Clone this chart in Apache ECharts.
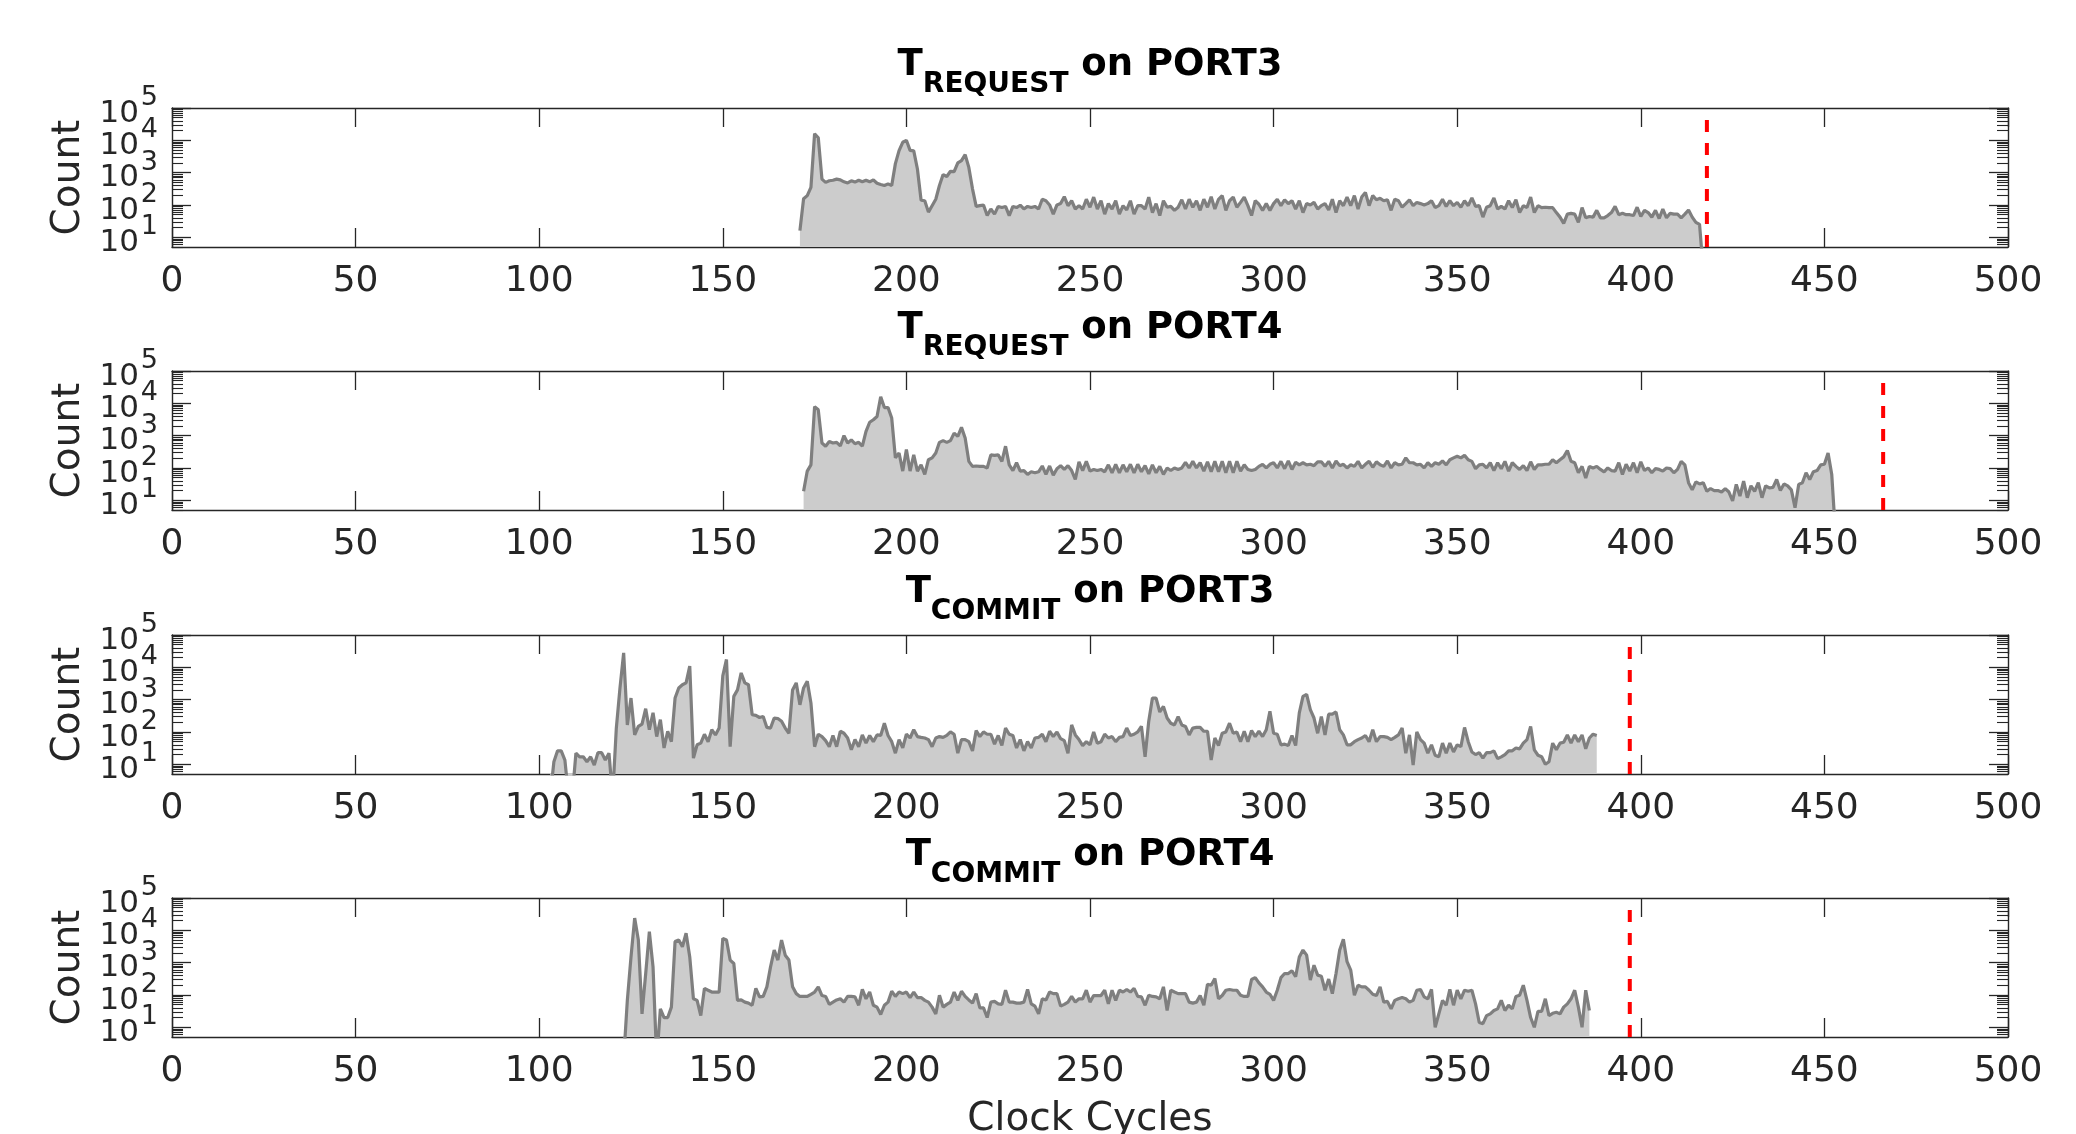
<!DOCTYPE html>
<html>
<head>
<meta charset="utf-8">
<script src="https://cdn.jsdelivr.net/npm/echarts@6/dist/echarts.min.js"></script>
<style>
html,body{margin:0;padding:0;background:#fff;}
#chart{width:2076px;height:1134px;}
</style>
</head>
<body>
<div id="chart"></div>
<script>
// ---------------- DATA ----------------
const xTicks = [0, 50, 100, 150, 200, 250, 300, 350, 400, 450, 500];
const yMajorTicks = [10, 100, 1000, 10000, 100000];
const yMajorBase = '10';
const yMajorExp = ['1', '2', '3', '4', '5'];
const yMinorTicks = [5, 6, 7, 8, 9, 20, 30, 40, 50, 60, 70, 80, 90, 200, 300, 400, 500, 600, 700, 800, 900,
  2000, 3000, 4000, 5000, 6000, 7000, 8000, 9000, 20000, 30000, 40000, 50000, 60000, 70000, 80000, 90000];
const yMin = 5;
const yMax = 100000;

const titleSubs = ['REQUEST', 'REQUEST', 'COMMIT', 'COMMIT'];
const titlePorts = ['PORT3', 'PORT4', 'PORT3', 'PORT4'];
const deadlines = [418, 466, 397, 397];
const deadlineTop = 56000;

const reqPort3Start = 171;
const reqPort3 = [16,155,195,350,16000,12000,630,500,560,580,
 630,600,520,480,560,510,580,520,580,520,
 600,470,430,400,450,400,1900,4800,8700,10000,
 4900,4700,1300,140,135,60,95,150,400,870,
 760,1100,1080,2000,2350,3600,1450,315,90,95,
 100,47,75,52,90,83,90,47,90,83,
 98,75,90,83,90,75,150,135,100,52,
 100,110,180,95,135,75,95,75,150,85,
 175,75,135,52,110,75,135,52,95,70,
 135,52,95,95,75,175,58,110,47,135,
 85,90,68,85,145,75,150,85,135,68,
 150,85,180,75,150,195,68,135,175,85,
 120,175,95,47,135,105,68,110,68,110,
 150,95,145,110,135,75,135,58,110,100,
 120,75,95,110,70,150,58,135,95,175,
 95,195,75,175,245,95,195,145,160,135,
 145,68,150,135,85,110,145,95,120,110,
 100,110,135,83,95,150,90,135,95,120,
 85,135,95,165,90,95,42,85,95,165,
 75,90,75,135,83,145,58,95,83,175,
 58,95,83,85,83,83,58,42,27,52,
 55,52,29,83,40,44,42,68,40,40,
 47,58,90,50,55,50,50,47,85,44,
 68,58,42,68,38,75,40,55,52,52,
 40,52,70,42,29,25,1];

const reqPort4Start = 172;
const reqPort4 = [19,80,125,7900,6300,590,470,660,590,620,
 480,1000,590,740,560,620,470,1350,2600,3100,
 3900,16000,7400,7400,3500,205,290,80,370,80,
 255,80,125,63,180,205,290,620,700,620,
 700,1200,950,1800,850,160,112,115,112,112,
 100,255,245,255,160,470,125,83,145,80,
 83,63,76,71,76,115,63,115,60,95,
 118,90,118,83,44,155,83,160,80,90,
 83,90,76,125,71,130,71,125,76,130,
 71,130,76,118,66,125,71,112,63,100,
 83,100,90,100,150,100,160,100,145,80,
 155,76,160,76,160,71,160,71,160,80,
 125,90,83,90,112,130,100,130,145,100,
 160,95,165,90,150,125,145,125,130,118,
 155,155,112,160,100,165,118,130,100,125,
 112,160,100,130,160,105,155,125,112,165,
 100,145,125,130,205,145,145,125,130,100,
 145,112,145,130,165,125,180,205,230,205,
 245,180,160,95,125,130,100,145,83,145,
 95,160,80,145,112,90,118,83,155,90,
 125,125,130,130,180,145,180,220,345,160,
 145,71,112,49,112,100,112,90,76,100,
 83,80,145,63,130,80,145,71,155,83,
 100,71,95,90,80,100,95,71,90,160,
 125,35,21,37,32,35,19,23,20,20,
 18,23,18,9.5,31,13.5,39,12,28,19,
 35,12,28,24,25,44,20,32,28,21,
 5.9,31,35,71,44,76,83,125,130,290,
 63,1];

const comPort3Start = 103;
const comPort3 = [1,12,26,26,13.5,1,1,22,17,17,
 12,17,9.5,23,23,13.5,22,1,130,2300,
 28000,165,1120,81,148,175,525,117,390,72,
 240,32,105,50,1120,2300,2900,3300,11000,15.5,
 40,45,85,50,117,81,132,5400,17500,35,
 1260,2000,6700,3300,2900,340,325,280,300,138,
 132,270,260,215,132,91,2000,3300,690,2300,
 3700,790,35,85,72,54,35,78,35,105,
 91,65,28,58,35,81,45,78,50,81,
 78,186,78,50,22,58,32,85,65,117,
 72,68,65,58,35,65,72,68,78,100,
 85,22,58,58,50,26,110,72,100,85,
 85,42,78,38,132,85,78,32,58,26,
 50,32,65,68,85,50,105,72,100,62,
 54,22,165,81,58,38,50,40,100,45,
 50,85,65,72,50,68,72,132,78,85,
 100,150,17,215,1120,1120,415,615,270,186,
 165,300,165,148,81,132,138,138,105,105,
 13.5,65,38,91,100,186,91,100,50,105,
 50,110,72,105,72,117,435,91,85,40,
 42,38,78,38,390,1260,1450,490,270,91,
 300,81,355,355,415,117,81,40,40,50,
 58,65,78,50,117,50,72,72,68,58,
 68,81,132,22,81,9.5,100,58,45,22,
 40,19,17,45,22,45,24,40,35,138,
 50,24,20,23,15.5,23,23,26,15,17,
 20,26,26,32,30,45,58,148,28,19,
 17,10,12,45,28,45,48,81,45,81,
 50,81,30,65,85,78];

const comPort4Start = 123;
const comPort4 = [1,68,1500,24000,5000,26,460,9100,740,1,
 37,20,20,42,4500,5000,3100,8100,1500,76,
 68,23,160,140,123,123,123,5600,5000,1200,
 940,68,70,60,56,48,160,87,90,178,
 740,2450,1200,5000,1700,1200,178,110,90,90,
 90,105,123,178,96,90,51,60,70,76,
 60,90,90,87,48,148,76,123,48,42,
 25,48,60,130,90,123,110,123,83,123,
 83,83,68,60,42,26,98,42,51,60,
 123,68,130,90,70,56,110,40,40,20,
 60,63,53,51,140,60,60,56,56,60,
 148,53,45,26,76,70,123,110,110,45,
 51,60,90,60,76,76,140,60,96,96,
 96,140,53,140,68,140,123,148,123,160,
 90,87,48,98,90,87,76,178,33,140,
 123,110,110,110,60,56,60,96,48,215,
 200,325,76,96,140,148,140,140,98,90,
 90,300,345,235,178,123,105,68,140,345,
 460,460,560,365,1500,2450,1700,290,830,410,
 380,140,310,110,460,2450,5300,1070,590,98,
 200,178,178,140,105,96,178,60,63,37,
 68,76,83,76,60,68,140,148,87,76,
 148,10,26,68,48,148,48,140,76,140,
 130,140,53,14,13,23,26,33,37,68,
 33,48,37,90,98,200,68,20,10,31,
 31,76,23,27,29,26,42,53,76,140,
 42,10,140,33];

const seriesStarts = [reqPort3Start, reqPort4Start, comPort3Start, comPort4Start];
const seriesValues = [reqPort3, reqPort4, comPort3, comPort4];

// ---------------- LAYOUT / STYLE ----------------
const FONT = 'DejaVu Sans';
const AX = '#262626';
const gridTops = [108, 371, 635, 898];
const gridH = 139;
const gridLeft = 172, gridRight = 68;
const plotCenterX = gridLeft + (2076 - gridLeft - gridRight) / 2;

const grids = [], xAxes = [], yAxes = [], series = [], titles = [];
const axLine = {show: true, onZero: false, lineStyle: {color: AX, width: 1.4}};

function expFor(v) {
  for (let k = 0; k < yMajorTicks.length; k++) {
    if (Math.abs(Math.log10(v) - Math.log10(yMajorTicks[k])) < 0.01) return yMajorExp[k];
  }
  return '';
}

for (let i = 0; i < 4; i++) {
  grids.push({left: gridLeft, right: gridRight, top: gridTops[i], height: gridH,
    containLabel: false, outerBoundsMode: 'none'});

  const xb = {
    gridIndex: i, type: 'value', min: 0, max: 500, interval: 50, position: 'bottom',
    axisLine: axLine,
    axisTick: {show: true, inside: true, length: 19, lineStyle: {color: AX, width: 1.3}},
    axisLabel: {show: true, fontSize: 36, fontFamily: FONT, color: AX, margin: 17,
      showMinLabel: true, showMaxLabel: true,
      formatter: v => (xTicks.indexOf(v) >= 0 ? String(v) : '')},
    splitLine: {show: false}
  };
  if (i === 3) {
    xb.name = 'Clock Cycles';
    xb.nameLocation = 'middle';
    xb.nameGap = 63;
    xb.nameTextStyle = {fontSize: 39, fontFamily: FONT, color: AX};
  }
  xAxes.push(xb);
  xAxes.push({
    gridIndex: i, type: 'value', min: 0, max: 500, interval: 50, position: 'top',
    axisLine: axLine,
    axisTick: {show: true, inside: true, length: 19, lineStyle: {color: AX, width: 1.3}},
    axisLabel: {show: false}, splitLine: {show: false}
  });

  const baseY = {gridIndex: i, type: 'log', logBase: 10, min: yMin, max: yMax, splitLine: {show: false}, minorTick: {show: false}};
  // left major: ticks + base "10" labels
  yAxes.push(Object.assign({}, baseY, {
    position: 'left', axisLine: axLine,
    axisTick: {show: true, inside: true, length: 19, customValues: yMajorTicks, lineStyle: {color: AX, width: 1.3}},
    axisLabel: {show: true, customValues: yMajorTicks, margin: 33,
      showMinLabel: true, showMaxLabel: true, hideOverlap: false,
      fontSize: 31, fontFamily: FONT, color: AX, lineHeight: 11, verticalAlign: 'top',
      formatter: () => yMajorBase},
    name: 'Count', nameLocation: 'middle', nameGap: 77,
    nameTextStyle: {fontSize: 39, fontFamily: FONT, color: AX}
  }));
  // left minor: minor ticks + exponent labels
  yAxes.push(Object.assign({}, baseY, {
    position: 'left', axisLine: {show: false, onZero: false},
    axisTick: {show: true, inside: true, length: 11, customValues: yMinorTicks, lineStyle: {color: AX, width: 1.1}},
    axisLabel: {show: true, customValues: yMajorTicks, margin: 14,
      showMinLabel: true, showMaxLabel: true, hideOverlap: false,
      fontSize: 27, fontFamily: FONT, color: AX, lineHeight: 20, verticalAlign: 'bottom',
      formatter: v => expFor(v)}
  }));
  yAxes.push(Object.assign({}, baseY, {
    position: 'right', axisLine: axLine,
    axisTick: {show: true, inside: true, length: 19, customValues: yMajorTicks, lineStyle: {color: AX, width: 1.3}},
    axisLabel: {show: false}
  }));
  yAxes.push(Object.assign({}, baseY, {
    position: 'right', axisLine: {show: false, onZero: false},
    axisTick: {show: true, inside: true, length: 11, customValues: yMinorTicks, lineStyle: {color: AX, width: 1.1}},
    axisLabel: {show: false}
  }));

  const start = seriesStarts[i];
  series.push({
    type: 'line', xAxisIndex: 2 * i, yAxisIndex: 4 * i,
    data: seriesValues[i].map((v, k) => [start + k, v]),
    symbol: 'none', showSymbol: false, clip: true,
    lineStyle: {color: '#7f7f7f', width: 3.2},
    areaStyle: {color: '#cccccc', opacity: 1, origin: 'start'},
    z: 2
  });
  series.push({
    type: 'line', xAxisIndex: 2 * i, yAxisIndex: 4 * i,
    data: [[deadlines[i], yMin], [deadlines[i], deadlineTop]],
    symbol: 'none', showSymbol: false,
    lineStyle: {color: '#ff0000', width: 4, type: [12, 11]},
    z: 3
  });

  titles.push({
    text: '{t|T}{s|' + titleSubs[i] + '}{t| on ' + titlePorts[i] + '}',
    left: plotCenterX, top: gridTops[i] - 61, textAlign: 'center', padding: 0,
    textStyle: {
      rich: {
        t: {fontSize: 37, fontWeight: 'bold', fontFamily: FONT, color: '#000', lineHeight: 40, verticalAlign: 'top'},
        s: {fontSize: 28, fontWeight: 'bold', fontFamily: FONT, color: '#000', lineHeight: 52, verticalAlign: 'bottom'}
      }
    }
  });
}

const chart = echarts.init(document.getElementById('chart'), null, {renderer: 'canvas'});
chart.setOption({
  animation: false,
  backgroundColor: '#fff',
  title: titles,
  grid: grids,
  xAxis: xAxes,
  yAxis: yAxes,
  series: series
});
</script>
</body>
</html>
